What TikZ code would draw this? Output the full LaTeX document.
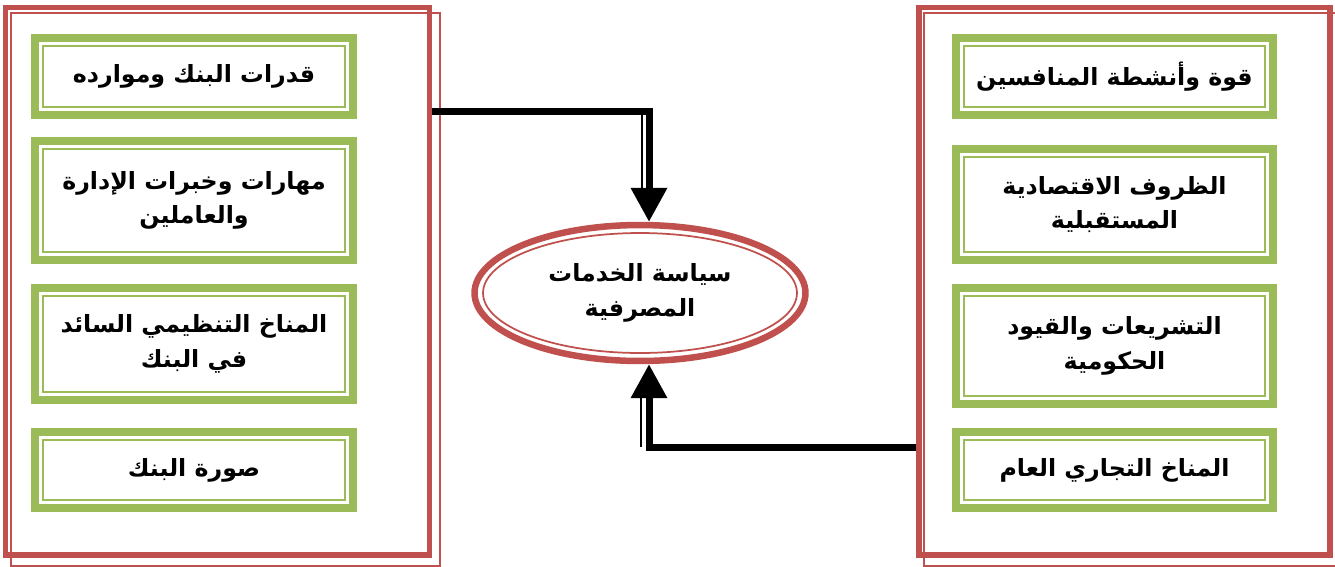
\documentclass[tikz,border=0pt]{standalone}
\usepackage{fontspec}
\usetikzlibrary{shapes.geometric}
\usetikzlibrary{arrows,arrows.meta}
\usetikzlibrary{calc}
\TeXXeTstate=1
\newfontfamily\arabicfont[Script=Arabic]{DejaVu Sans}
\definecolor{rahmen}{RGB}{192,80,77}
\definecolor{kasten}{RGB}{155,187,89}

\tikzset{
  panel/.style={draw=rahmen, line width=0.11cm, inner sep=0pt, minimum height=10.95cm},
  panelthin/.style={draw=rahmen, line width=0.04cm},
  factor/.style={draw=kasten, line width=0.16cm, inner sep=0pt, minimum width=6.36cm,
    align=center, font=\arabicfont\bfseries\fontsize{13.5}{19.5}\selectfont,
    path picture={\draw[kasten, line width=0.045cm]
      ([shift={(0.16cm,-0.16cm)}]path picture bounding box.north west) rectangle
      ([shift={(-0.16cm,0.16cm)}]path picture bounding box.south east);}},
  policybox/.style={ellipse, draw=rahmen, line width=0.13cm, inner sep=0pt,
    minimum width=6.62cm, minimum height=2.72cm, align=center,
    font=\arabicfont\bfseries\fontsize{13.5}{19.5}\selectfont,
    path picture={\draw[rahmen, line width=0.035cm]
      (path picture bounding box.center) ellipse [x radius=3.14cm, y radius=1.2cm];}},
  flow/.style={black, line width=0.14cm, line join=miter,
    -{Triangle[width=0.7cm, length=0.68cm]}},
  flowthin/.style={black, line width=0.03cm},
}

\begin{document}
\begin{tikzpicture}[x=0.02cm, y=-0.02cm]
\useasboundingbox (0,0) rectangle (1335,566);

% Rahmen
\node[panel, minimum width=8.48cm] (inner) at (217.5,281.25) {};
\node[panel, minimum width=8.22cm] (outer) at (1124.5,281.25) {};
\draw[panelthin] ([shift={(8,8)}]inner.north west) rectangle ([shift={(8,8)}]inner.south east);
\draw[panelthin] ([shift={(8,8)}]outer.north west) rectangle ([shift={(8,8)}]outer.south east);

% interne Faktoren
\node[factor, minimum height=1.54cm] (res) at (194,76.5) {\beginR قدرات البنك وموارده\endR};
\node[factor, minimum height=2.38cm] (skills) at (194,200.5) {\beginR مهارات وخبرات الإدارة\endR\\\beginR والعاملين\endR};
\node[factor, minimum height=2.24cm] (climate) at (194,344) {\beginR المناخ التنظيمي السائد\endR\\\beginR في البنك\endR};
\node[factor, minimum height=1.52cm] (image) at (194,470) {\beginR صورة البنك\endR};

% externe Faktoren
\node[factor, minimum width=6.34cm, minimum height=1.54cm] (rivals) at (1114.5,76.5) {\beginR قوة وأنشطة المنافسين\endR};
\node[factor, minimum width=6.34cm, minimum height=2.22cm] (economy) at (1114.5,204.5) {\beginR الظروف الاقتصادية\endR\\\beginR المستقبلية\endR};
\node[factor, minimum width=6.34cm, minimum height=2.32cm] (laws) at (1114.5,346) {\beginR التشريعات والقيود\endR\\\beginR الحكومية\endR};
\node[factor, minimum width=6.34cm, minimum height=1.52cm] (market) at (1114.5,470) {\beginR المناخ التجاري العام\endR};

\node[policybox] (policy) at (640,293) {\beginR سياسة الخدمات\endR\\\beginR المصرفية\endR};

% Pfeile
\coordinate (tbend) at (649,111);
\coordinate (bbend) at (649,447);
\draw[flow] (inner.east |- tbend) -- (tbend) -- (tbend |- policy.north);
\draw[flowthin] ($(tbend)+(-7,3)$) -- ($(tbend |- policy.north)+(-7,-30)$);
\draw[flow] (outer.west |- bbend) -- (bbend) -- (bbend |- policy.south);
\draw[flowthin] ($(bbend)+(-8,0)$) -- ($(bbend |- policy.south)+(-8,30)$);

\end{tikzpicture}
\end{document}
